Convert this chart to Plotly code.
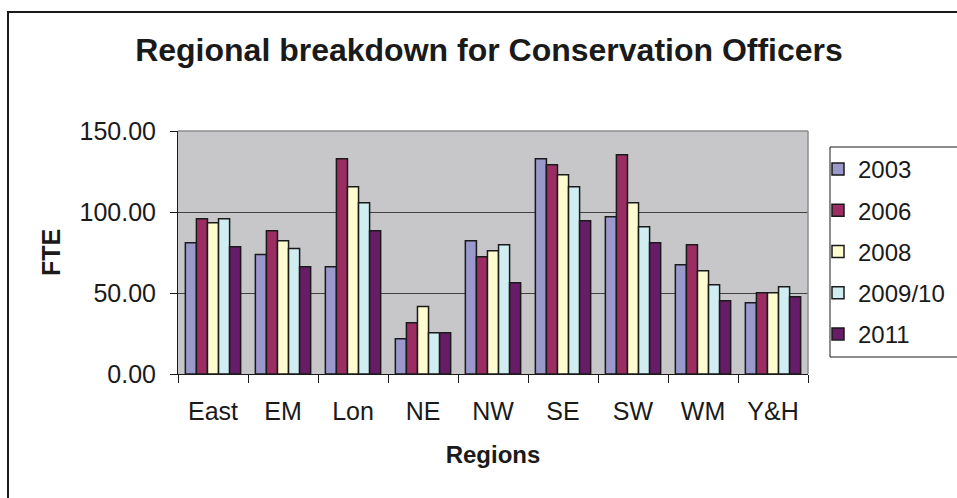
import plotly.graph_objects as go

regions = ["East", "EM", "Lon", "NE", "NW", "SE", "SW", "WM", "Y&H"]
series_names = ["2003", "2006", "2008", "2009/10", "2011"]
v2003 = [81.0, 73.7, 66.2, 21.8, 82.3, 132.9, 97.1, 67.5, 44.0]
v2006 = [95.9, 88.5, 132.9, 31.7, 72.4, 129.2, 135.4, 79.8, 50.2]
v2008 = [93.4, 82.3, 115.6, 41.6, 76.1, 123.0, 105.7, 63.8, 50.2]
v2009 = [95.9, 77.4, 105.7, 25.5, 79.8, 115.6, 90.9, 55.1, 53.9]
v2011 = [78.6, 66.2, 88.5, 25.5, 56.4, 94.6, 81.0, 45.2, 47.7]
series_values = [v2003, v2006, v2008, v2009, v2011]
colors = ["#9B98CC", "#9B2D62", "#FFFCD0", "#D0EDF2", "#661C66"]

FONT = "Liberation Sans, Arial, sans-serif"

fig = go.Figure()
for name, vals, col in zip(series_names, series_values, colors):
    fig.add_trace(go.Bar(
        x=regions, y=vals, name=name, legendgroup=name,
        marker=dict(color=col, line=dict(color="#1a1a1a", width=1.5)),
    ))

W, H = 957, 498
L, R, T, B = 178, 808, 131, 374

def px(x):
    return (x - L) / (R - L)

def py(y):
    return (B - y) / (B - T)

fig.update_layout(
    width=W, height=H,
    margin=dict(l=L, r=W - R, t=T, b=H - B, autoexpand=False),
    paper_bgcolor="white",
    plot_bgcolor="#C7C7C9",
    font=dict(family=FONT, color="#1a1a1a"),
    barmode="group", bargap=0.21, bargroupgap=0,
    title=dict(text="<b>Regional breakdown for Conservation Officers</b>",
               font=dict(size=32, family=FONT, color="#1a1a1a"),
               x=489 / W, xanchor="center", xref="container",
               y=1 - 50 / H, yanchor="middle", yref="container"),
    legend=dict(x=px(818), y=py(147), xanchor="left", yanchor="top",
                borderwidth=0, bgcolor="rgba(0,0,0,0)",
                font=dict(size=24, family=FONT, color="#1a1a1a"),
                traceorder="grouped", tracegroupgap=7,
                itemwidth=30),
    xaxis=dict(showline=True, linecolor="#1a1a1a", linewidth=1,
               ticks="outside", tickson="boundaries", ticklen=8,
               tickcolor="#1a1a1a", tickfont=dict(size=25, family=FONT),
               ticklabelstandoff=15,
               title=dict(text="<b>Regions</b>", font=dict(size=24, family=FONT),
                          standoff=22),
               mirror=False),
    yaxis=dict(range=[0, 150], dtick=50, tickformat=".2f",
               showline=True, linecolor="#1a1a1a", linewidth=1,
               ticks="outside", ticklen=7, tickcolor="#1a1a1a",
               tickfont=dict(size=25, family=FONT),
               ticklabelstandoff=9,
               showgrid=True, gridcolor="#404040", gridwidth=1,
               zeroline=False,
               title=dict(text="<b>FTE</b>", font=dict(size=25, family=FONT),
                          standoff=11)),
    shapes=[
        dict(type="line", xref="paper", yref="paper", x0=0, x1=1, y0=1, y1=1,
             line=dict(color="#8c8c8c", width=1.5)),
        dict(type="line", xref="paper", yref="paper", x0=1, x1=1, y0=0, y1=1,
             line=dict(color="#8c8c8c", width=1.5)),
        dict(type="rect", xref="paper", yref="paper",
             x0=px(830), x1=px(970), y0=py(357), y1=py(147),
             line=dict(color="#1a1a1a", width=1), fillcolor="white", layer="below"),
        dict(type="rect", xref="paper", yref="paper",
             x0=px(8), x1=px(970), y0=py(510), y1=py(12),
             line=dict(color="#1a1a1a", width=2), layer="above"),
    ],
)

fig.write_html("out.html",
               config={"displayModeBar": False},
               post_script="document.body.style.margin='0px';document.body.style.overflow='hidden';")
